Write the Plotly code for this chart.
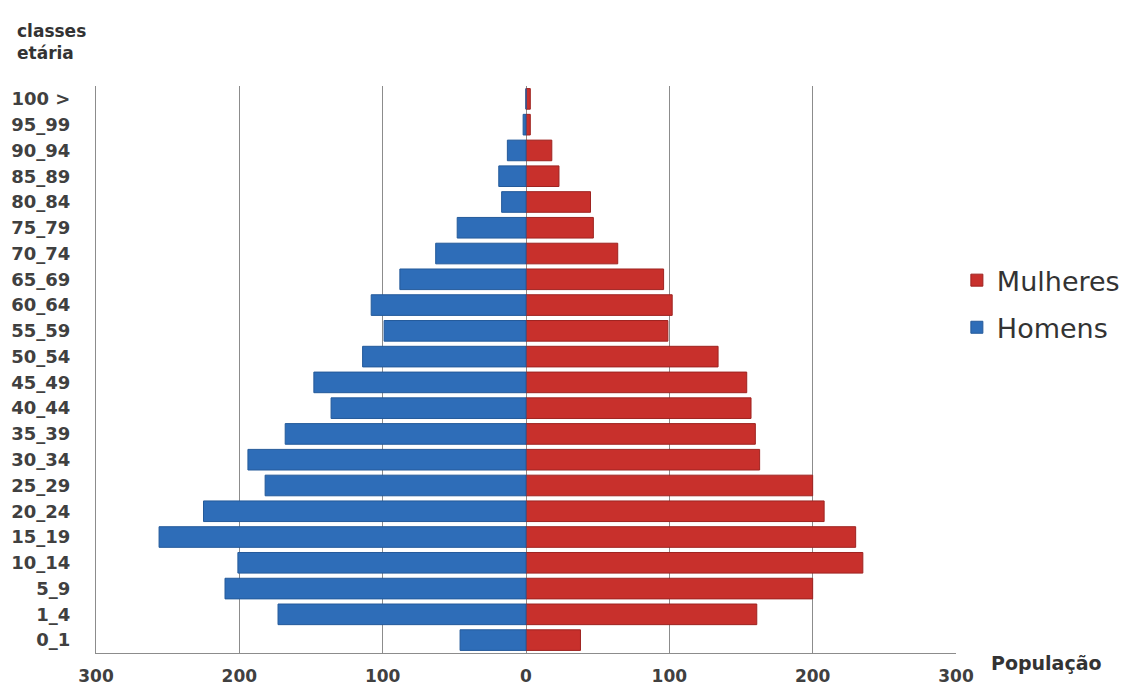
import plotly.graph_objects as go

age_classes = ["0_1", "1_4", "5_9", "10_14", "15_19", "20_24", "25_29", "30_34",
               "35_39", "40_44", "45_49", "50_54", "55_59", "60_64", "65_69",
               "70_74", "75_79", "80_84", "85_89", "90_94", "95_99", "100 >"]
homens = [46, 173, 210, 201, 256, 225, 182, 194, 168, 136, 148, 114, 99, 108,
          88, 63, 48, 17, 19, 13, 2, 0]
mulheres = [38, 161, 200, 235, 230, 208, 200, 163, 160, 157, 154, 134, 99, 102,
            96, 64, 47, 45, 23, 18, 3, 3]
tick_vals = [-300, -200, -100, 0, 100, 200, 300]
tick_text = ["300", "200", "100", "0", "100", "200", "300"]

RED = "#C8302C"
BLUE = "#2E6DB8"
TXT = "#404040"
GRID = "#8C8C8C"

fig = go.Figure()
fig.add_trace(go.Bar(
    y=age_classes, x=mulheres, orientation="h", name="Mulheres",
    legendgroup="m",
    marker=dict(color=RED, line=dict(color="#9E2320", width=1)),
))
fig.add_trace(go.Bar(
    y=age_classes, x=[-v for v in homens], orientation="h", name="Homens",
    legendgroup="h",
    marker=dict(color=BLUE, line=dict(color="#245A9A", width=1)),
))

fig.update_layout(
    width=1130, height=679,
    margin=dict(l=88, r=182, t=78, b=34),
    paper_bgcolor="white", plot_bgcolor="white",
    barmode="overlay", bargap=0.2,
    font=dict(family="DejaVu Sans", color=TXT),
    showlegend=True,
    legend=dict(
        x=1.001, xanchor="left", y=0.70, yanchor="top",
        traceorder="grouped", tracegroupgap=9,
        font=dict(family="DejaVu Sans", size=27, color="#333333"),
        bgcolor="rgba(0,0,0,0)",
    ),
    xaxis=dict(
        range=[-300, 300], tickvals=tick_vals, ticktext=tick_text,
        showgrid=True, gridcolor=GRID, gridwidth=1,
        zeroline=True, zerolinecolor=GRID, zerolinewidth=1,
        showline=True, linecolor=GRID, linewidth=1,
        ticks="", ticklabelstandoff=8, automargin=False,
        tickfont=dict(family="DejaVu Sans", size=17, weight="bold", color=TXT),
        fixedrange=True,
    ),
    yaxis=dict(
        type="category", categoryorder="array", categoryarray=age_classes,
        showgrid=False, showline=True, linecolor=GRID, linewidth=1,
        ticks="", ticklabelstandoff=21, automargin=False,
        tickfont=dict(family="DejaVu Sans", size=18, weight="bold", color=TXT),
        fixedrange=True,
    ),
    annotations=[
        dict(text="classes<br>etária", xref="paper", yref="paper",
             x=-0.094, y=1.119, xanchor="left", yanchor="top", align="left",
             showarrow=False,
             font=dict(family="DejaVu Sans", size=17, weight="bold", color="#333333")),
        dict(text="População", xref="paper", yref="paper",
             x=1.038, y=-0.018, xanchor="left", yanchor="middle", align="left",
             showarrow=False,
             font=dict(family="DejaVu Sans", size=19, weight="bold", color="#333333")),
    ],
)

fig.write_html("out.html")
